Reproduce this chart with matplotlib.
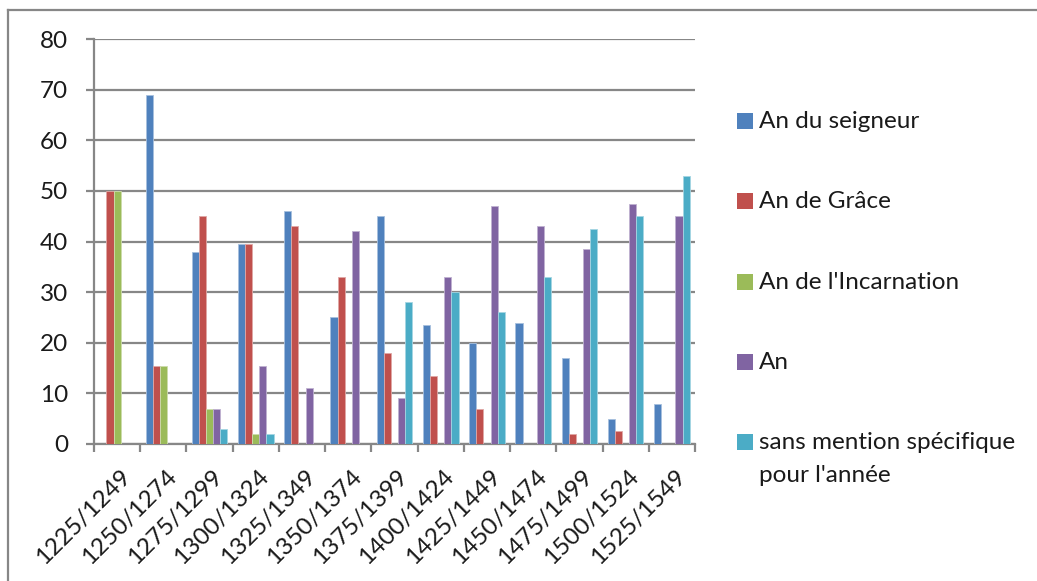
import numpy as np
import matplotlib
matplotlib.use("Agg")
import matplotlib.pyplot as plt
from matplotlib.patches import Rectangle
from matplotlib.lines import Line2D
from matplotlib.transforms import ScaledTranslation

categories = ["1225/1249", "1250/1274", "1275/1299", "1300/1324", "1325/1349",
              "1350/1374", "1375/1399", "1400/1424", "1425/1449", "1450/1474",
              "1475/1499", "1500/1524", "1525/1549"]
series_names = ["An du seigneur", "An de Grâce", "An de l'Incarnation", "An",
                "sans mention spécifique\npour l'année"]
an_du_seigneur = [0, 69, 38, 39.5, 46, 25, 45, 23.5, 20, 24, 17, 5, 8]
an_de_grace = [50, 15.5, 45, 39.5, 43, 33, 18, 13.5, 7, 0, 2, 2.5, 0]
an_incarnation = [50, 15.5, 7, 2, 0, 0, 0, 0, 0, 0, 0, 0, 0]
an = [0, 0, 7, 15.5, 11, 42, 9, 33, 47, 43, 38.5, 47.5, 45]
sans_mention = [0, 0, 3, 2, 0, 0, 28, 30, 26, 33, 42.5, 45, 53]
yticks = [0, 10, 20, 30, 40, 50, 60, 70, 80]

colors = ["#4F81BD", "#C0504D", "#9BBB59", "#8064A2", "#4BACC6"]
edge_colors = ["#A7C0DE", "#DFA8A6", "#CDDDAC", "#BFB1D0", "#A5D5E2"]
series = [an_du_seigneur, an_de_grace, an_incarnation, an, sans_mention]

FONT = "Lato"
FS = 17.5
TXT = "#1a1a1a"
GRID = "#878787"

W, H = 1037, 581
fig = plt.figure(figsize=(W / 100, H / 100), dpi=100)
fig.patch.set_facecolor("white")

ax = fig.add_axes([94 / W, 1 - 444 / H, (695 - 94) / W, (444 - 39) / H])
x = np.arange(len(categories))
bw = 1 / 6.5
for i, (vals, c, ec) in enumerate(zip(series, colors, edge_colors)):
    ax.bar(x + (i - 2) * bw, vals, width=bw, color=c, edgecolor=ec,
           linewidth=0.6, zorder=3)

ax.set_xlim(-0.5, len(categories) - 0.5)
ax.set_ylim(0, 80)
ax.set_yticks(yticks)
ax.set_yticklabels([str(v) for v in yticks], fontfamily=FONT, fontsize=FS, color=TXT)
ax.yaxis.grid(True, color=GRID, linewidth=1.6, zorder=0)
ax.set_axisbelow(True)
for s in ["top", "right"]:
    ax.spines[s].set_visible(False)
for s in ["left", "bottom"]:
    ax.spines[s].set_color(GRID)
    ax.spines[s].set_linewidth(1.6)
ax.tick_params(axis="y", length=5.8, width=1.6, color=GRID, pad=13)

ax.set_xticks(x)
ax.set_xticks(np.arange(-0.5, len(categories), 1), minor=True)
ax.tick_params(axis="x", which="major", length=0, pad=21)
ax.tick_params(axis="x", which="minor", length=5.8, width=1.6, color=GRID)
labels = ax.set_xticklabels(categories, rotation=45, ha="right", va="center",
                            rotation_mode="anchor", fontfamily=FONT, fontsize=FS,
                            color=TXT)
off = ScaledTranslation(10 / 100, 0, fig.dpi_scale_trans)
for lab in labels:
    lab.set_transform(lab.get_transform() + off)

# legend (manual)
ys = [121, 201, 282, 362, 442]
for name, c, yy in zip(series_names, colors, ys):
    fig.patches.append(Rectangle((737 / W, 1 - (yy + 8) / H), 16 / W, 16 / H,
                                 transform=fig.transFigure, facecolor=c,
                                 edgecolor="none"))
    fig.text(759 / W, 1 - (yy - 10) / H, name, fontfamily=FONT, fontsize=FS,
             color=TXT, ha="left", va="top", linespacing=1.7)

# chart border
fig.add_artist(Line2D([8 / W, 8 / W], [0, 1 - 10 / H], transform=fig.transFigure,
                      color=GRID, linewidth=1.6))
fig.add_artist(Line2D([8 / W, 1], [1 - 10 / H, 1 - 10 / H], transform=fig.transFigure,
                      color=GRID, linewidth=1.6))

fig.savefig("out.png", dpi=100, facecolor="white")
